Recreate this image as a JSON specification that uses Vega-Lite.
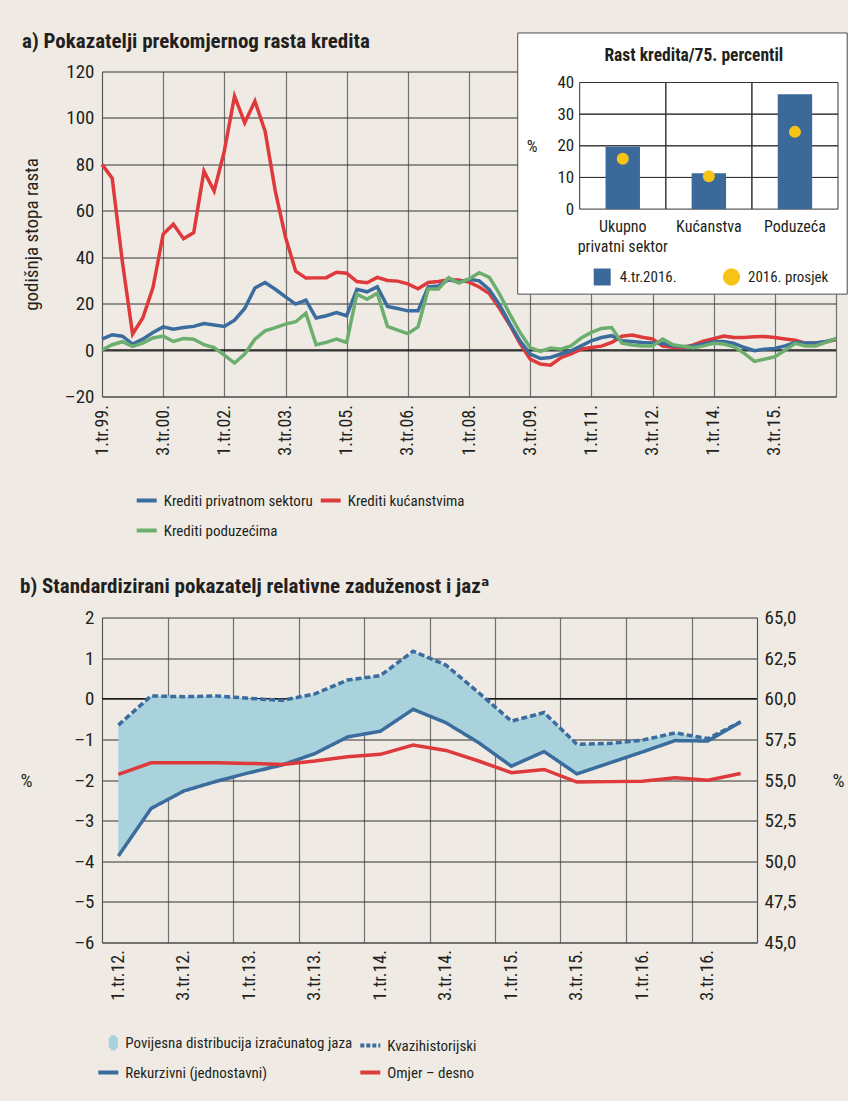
{
  "$schema": "https://vega.github.io/schema/vega-lite/v6.json",
  "background": "#efebe4",
  "padding": {"left": 19, "top": 30.5, "right": 0, "bottom": 20},
  "bounds": "flush",
  "spacing": 221,
  "config": {
    "font": "Liberation Sans Narrow, Noto Sans ExtraCondensed, Noto Sans Condensed, Roboto Condensed, DejaVu Sans Condensed, sans-serif",
    "view": {"stroke": null},
    "axis": {"labelColor": "#231f20", "titleColor": "#231f20", "titleFontWeight": "normal", "ticks": false, "labelFlush": false, "labelOverlap": false, "domainColor": "#555555"},
    "legend": {"labelColor": "#231f20", "labelFontSize": 15, "labelLimit": 400, "padding": 0},
    "title": {"fontSize": 21, "fontWeight": "bold", "color": "#231f20", "anchor": "start"}
  },
  "vconcat": [
    {
      "width": 734,
      "height": 325,
      "title": {"text": "a) Pokazatelji prekomjernog rasta kredita", "offset": -20},
      "resolve": {"scale": {"x": "independent", "y": "independent", "color": "independent"}},
      "layer": [
        {
          "data": {"values": [{}]},
          "mark": {"type": "rule", "color": "#1a1a1a", "strokeWidth": 1.6},
          "encoding": {"y": {"datum": 0, "type": "quantitative", "scale": {"domain": [-20, 120], "nice": false, "zero": false}, "axis": null}}
        },
        {
          "data": {"name": "krediti"},
          "transform": [{"fold": ["Krediti kućanstvima", "Krediti privatnom sektoru", "Krediti poduzećima"], "as": ["serija", "vrijednost"]}],
          "mark": {"type": "line", "strokeWidth": 3.5},
          "encoding": {
            "x": {"field": "i", "type": "quantitative",
              "scale": {"domain": [0, 72], "nice": false, "zero": false},
              "axis": {"values": [0,6,12,18,24,30,36,42,48,54,60,66,72],
                "labelExpr": "datum.value >= 72 ? '' : ((datum.value % 4) + 1) + '.tr.' + ((((99 + floor(datum.value / 4)) % 100) < 10) ? '0' : '') + ((99 + floor(datum.value / 4)) % 100) + '.'",
                "labelAngle": 270, "labelAlign": "right", "labelBaseline": "middle", "labelPadding": 8, "labelFontSize": 18,
                "grid": true, "gridColor": "#707070", "gridWidth": 1.2, "domainWidth": 1.2, "title": null, "zindex": 0}},
            "y": {"field": "vrijednost", "type": "quantitative",
              "scale": {"domain": [-20, 120], "nice": false, "zero": false},
              "axis": {"values": [-20,0,20,40,60,80,100,120],
                "labelExpr": "replace(datum.label, '−', '–')",
                "labelFontSize": 19, "labelPadding": 8, "grid": true, "gridColor": "#333333", "gridWidth": 1,
                "title": "godišnja stopa rasta", "titleFontSize": 19, "titleAngle": 270, "titleX": -71, "titleY": 162.5,
                "titleAlign": "center", "titleBaseline": "middle", "zindex": 0}},
            "color": {"field": "serija", "type": "nominal",
              "scale": {"domain": ["Krediti privatnom sektoru", "Krediti kućanstvima", "Krediti poduzećima"], "range": ["#3b6c9e", "#df3a3b", "#6cae6e"]},
              "legend": {"orient": "none", "legendX": 32.7, "legendY": 417, "columns": 2, "direction": "horizontal", "title": null,
                "symbolType": "stroke", "symbolStrokeWidth": 4, "symbolSize": 400, "labelOffset": 5,
                "rowPadding": 10, "columnPadding": 0}}
          }
        },
        {
          "data": {"values": [{}]},
          "mark": {"type": "rect", "fill": "white", "stroke": "#4d4d4d", "strokeWidth": 1},
          "encoding": {
            "x": {"datum": 40.78, "type": "quantitative", "scale": {"domain": [0, 72], "nice": false, "zero": false}, "axis": null},
            "x2": {"datum": 73.1},
            "y": {"datum": 136.6, "type": "quantitative", "scale": {"domain": [-20, 120], "nice": false, "zero": false}, "axis": null},
            "y2": {"datum": 24.1}
          }
        },
        {
          "data": {"name": "inset"},
          "mark": {"type": "rect", "fill": "transparent", "stroke": "#333333", "strokeWidth": 1},
          "encoding": {
            "x": {"field": "kategorija", "type": "nominal",
              "scale": {"domain": ["Ukupno privatni sektor", "Kućanstva", "Poduzeća"], "range": [477.7, 736.0], "paddingInner": 0, "paddingOuter": 0},
              "axis": {"orient": "bottom", "offset": -187.4, "zindex": 1, "domain": false, "grid": false, "ticks": false, "title": null,
                "labelAngle": 0, "labelFontSize": 16, "labelPadding": 9, "labelBaseline": "top", "labelLineHeight": 20,
                "labelExpr": "datum.value == 'Ukupno privatni sektor' ? ['Ukupno', 'privatni sektor'] : datum.value"}},
            "y": {"datum": 0, "type": "quantitative",
              "scale": {"domain": [0, 40], "range": [137.6, 11.0], "nice": false, "zero": false},
              "axis": {"orient": "left", "offset": -477.7, "zindex": 1, "domain": false, "grid": false, "ticks": false,
                "values": [0, 10, 20, 30, 40], "labelFontSize": 17, "labelPadding": 6,
                "title": "%", "titleAngle": 0, "titleX": -48, "titleY": 75, "titleFontSize": 17, "titleAlign": "center", "titleBaseline": "middle"}},
            "y2": {"datum": 40}
          }
        },
        {
          "data": {"name": "inset"},
          "mark": {"type": "rect", "fill": "transparent", "stroke": "#333333", "strokeWidth": 1},
          "encoding": {
            "x": {"field": "kategorija", "type": "nominal", "scale": {"domain": ["Ukupno privatni sektor", "Kućanstva", "Poduzeća"], "range": [477.7, 736.0], "paddingInner": 0, "paddingOuter": 0}, "axis": null},
            "y": {"datum": 10, "type": "quantitative", "scale": {"domain": [0, 40], "range": [137.6, 11.0], "nice": false, "zero": false}, "axis": null},
            "y2": {"datum": 10}
          }
        },
        {
          "data": {"name": "inset"},
          "mark": {"type": "rect", "fill": "transparent", "stroke": "#333333", "strokeWidth": 1},
          "encoding": {
            "x": {"field": "kategorija", "type": "nominal", "scale": {"domain": ["Ukupno privatni sektor", "Kućanstva", "Poduzeća"], "range": [477.7, 736.0], "paddingInner": 0, "paddingOuter": 0}, "axis": null},
            "y": {"datum": 20, "type": "quantitative", "scale": {"domain": [0, 40], "range": [137.6, 11.0], "nice": false, "zero": false}, "axis": null},
            "y2": {"datum": 20}
          }
        },
        {
          "data": {"name": "inset"},
          "mark": {"type": "rect", "fill": "transparent", "stroke": "#333333", "strokeWidth": 1},
          "encoding": {
            "x": {"field": "kategorija", "type": "nominal", "scale": {"domain": ["Ukupno privatni sektor", "Kućanstva", "Poduzeća"], "range": [477.7, 736.0], "paddingInner": 0, "paddingOuter": 0}, "axis": null},
            "y": {"datum": 30, "type": "quantitative", "scale": {"domain": [0, 40], "range": [137.6, 11.0], "nice": false, "zero": false}, "axis": null},
            "y2": {"datum": 30}
          }
        },
        {
          "data": {"name": "inset"},
          "mark": {"type": "bar", "width": {"band": 0.4}},
          "encoding": {
            "x": {"field": "kategorija", "type": "nominal", "scale": {"domain": ["Ukupno privatni sektor", "Kućanstva", "Poduzeća"], "range": [477.7, 736.0], "paddingInner": 0, "paddingOuter": 0}, "axis": null},
            "y": {"field": "q4", "type": "quantitative", "scale": {"domain": [0, 40], "range": [137.6, 11.0], "nice": false, "zero": false}, "axis": null},
            "color": {"datum": "4.tr.2016.",
              "scale": {"domain": ["4.tr.2016."], "range": ["#3b6a9a"]},
              "legend": {"orient": "none", "legendX": 490.7, "legendY": 196, "title": null, "symbolType": "square",
                "symbolSize": 289, "symbolOpacity": 1, "labelOffset": 8, "labelFontSize": 15}}
          }
        },
        {
          "data": {"name": "inset"},
          "mark": {"type": "point", "filled": true, "size": 144, "opacity": 1},
          "encoding": {
            "x": {"field": "kategorija", "type": "nominal", "scale": {"domain": ["Ukupno privatni sektor", "Kućanstva", "Poduzeća"], "range": [477.7, 736.0], "paddingInner": 0, "paddingOuter": 0}, "axis": null},
            "y": {"field": "prosjek", "type": "quantitative", "scale": {"domain": [0, 40], "range": [137.6, 11.0], "nice": false, "zero": false}, "axis": null},
            "color": {"datum": "2016. prosjek",
              "scale": {"domain": ["2016. prosjek"], "range": ["#f5c416"]},
              "legend": {"orient": "none", "legendX": 620, "legendY": 196, "title": null, "symbolType": "circle",
                "symbolSize": 300, "symbolOpacity": 1, "labelOffset": 7, "labelFontSize": 15}}
          }
        },
        {
          "data": {"values": [{}]},
          "mark": {"type": "text", "fontSize": 17.5, "fontWeight": "bold", "color": "#231f20", "dx": -15, "align": "center", "baseline": "middle"},
          "encoding": {
            "x": {"datum": "Kućanstva", "type": "nominal", "scale": {"domain": ["Ukupno privatni sektor", "Kućanstva", "Poduzeća"], "range": [477.7, 736.0], "paddingInner": 0, "paddingOuter": 0}, "axis": null},
            "y": {"datum": 48.4, "type": "quantitative", "scale": {"domain": [0, 40], "range": [137.6, 11.0], "nice": false, "zero": false}, "axis": null},
            "text": {"value": "Rast kredita/75. percentil"}
          }
        }
      ]
    },
    {
      "width": 655,
      "height": 325,
      "title": {"text": "b) Standardizirani pokazatelj relativne zaduženost i jazᵃ", "offset": 12},
      "data": {"name": "omjer"},
      "resolve": {"scale": {"y": "independent"}, "axis": {"x": "independent"}, "legend": {"color": "independent"}},
      "layer": [
        {
          "data": {"values": [{}]},
          "mark": {"type": "rule", "color": "#1a1a1a", "strokeWidth": 1.6},
          "encoding": {"y": {"datum": 0, "type": "quantitative", "scale": {"domain": [-6, 2], "nice": false, "zero": false}, "axis": null}}
        },
        {
          "mark": {"type": "area", "opacity": 1},
          "encoding": {
            "x": {"field": "k", "type": "quantitative", "axis": null},
            "y": {"field": "Kvazihistorijski", "type": "quantitative", "scale": {"domain": [-6, 2], "nice": false, "zero": false}, "axis": null},
            "y2": {"field": "Rekurzivni (jednostavni)"},
            "color": {"datum": "Povijesna distribucija izračunatog jaza", "legend": null}
          }
        },
        {
          "transform": [{"fold": ["Kvazihistorijski", "Rekurzivni (jednostavni)"], "as": ["serija", "vrijednost"]}],
          "mark": {"type": "line", "strokeWidth": 3.5},
          "encoding": {
            "x": {"field": "k", "type": "quantitative",
              "scale": {"domain": [-0.5, 19.5], "nice": false, "zero": false},
              "axis": {"values": [-0.5,0,1.5,2,3.5,4,5.5,6,7.5,8,9.5,10,11.5,12,13.5,14,15.5,16,17.5,18,19.5],
                "labelExpr": "datum.value % 1 != 0 ? '' : ((datum.value % 4 == 0) ? '1' : '3') + '.tr.' + (12 + floor(datum.value / 4)) + '.'",
                "labelAngle": 270, "labelAlign": "right", "labelBaseline": "middle", "labelPadding": 7, "labelFontSize": 18,
                "grid": true, "gridColor": "#707070", "gridWidth": 1.2,
                "gridOpacity": {"condition": {"test": "datum.value % 1 != 0", "value": 1}, "value": 0},
                "domainWidth": 1.2, "title": null, "zindex": 0}},
            "y": {"field": "vrijednost", "type": "quantitative",
              "scale": {"domain": [-6, 2], "nice": false, "zero": false},
              "axis": {"values": [-6,-5,-4,-3,-2,-1,0,1,2],
                "labelExpr": "replace(datum.label, '−', '–')",
                "labelFontSize": 19, "labelPadding": 8, "grid": true, "gridColor": "#333333", "gridWidth": 1,
                "title": "%", "titleFontSize": 19, "titleAngle": 0, "titleX": -76, "titleY": 162.5,
                "titleAlign": "center", "titleBaseline": "middle", "zindex": 0}},
            "color": {"field": "serija", "type": "nominal",
              "scale": {"domain": ["Povijesna distribucija izračunatog jaza", "Kvazihistorijski", "Rekurzivni (jednostavni)", "Omjer – desno"],
                "range": ["#a9d2dd", "#3b6c9e", "#3b6c9e", "#df3a3b"]},
              "legend": {"orient": "none", "legendX": -5.7, "legendY": 413, "columns": 2, "direction": "horizontal", "title": null,
                "symbolType": {"expr": "datum.value == 'Povijesna distribucija izračunatog jaza' ? 'M0.25,-0.55L0.75,-0.55L0.75,0.55L0.25,0.55Z' : 'stroke'"},
                "symbolDash": {"expr": "datum.value == 'Kvazihistorijski' ? [4, 2] : [1, 0]"},
                "symbolFillColor": {"expr": "datum.value == 'Povijesna distribucija izračunatog jaza' ? '#a9d2dd' : 'transparent'"},
                "symbolStrokeWidth": 4, "symbolSize": 400, "labelOffset": 5, "rowPadding": 4, "columnPadding": 0}},
            "strokeDash": {"field": "serija", "type": "nominal",
              "scale": {"domain": ["Kvazihistorijski", "Rekurzivni (jednostavni)"], "range": [[6, 3], [1, 0]]},
              "legend": null}
          }
        },
        {
          "mark": {"type": "line", "strokeWidth": 3.5},
          "encoding": {
            "x": {"field": "k", "type": "quantitative", "axis": null},
            "y": {"field": "Omjer – desno", "type": "quantitative",
              "scale": {"domain": [45, 65], "nice": false, "zero": false},
              "axis": {"orient": "right", "values": [45,47.5,50,52.5,55,57.5,60,62.5,65],
                "labelExpr": "replace(format(datum.value, '.1f'), '.', ',')",
                "labelFontSize": 19, "labelPadding": 7, "grid": false,
                "title": "%", "titleFontSize": 19, "titleAngle": 0, "titleX": 81, "titleY": 162.5,
                "titleAlign": "center", "titleBaseline": "middle", "zindex": 0}},
            "color": {"datum": "Omjer – desno", "legend": null}
          }
        }
      ]
    }
  ],
  "datasets": {
    "krediti": [
      {"i":0,"Krediti privatnom sektoru":4.7,"Krediti kućanstvima":80.0,"Krediti poduzećima":0.0},
      {"i":1,"Krediti privatnom sektoru":6.6,"Krediti kućanstvima":74.0,"Krediti poduzećima":2.3},
      {"i":2,"Krediti privatnom sektoru":6.0,"Krediti kućanstvima":38.0,"Krediti poduzećima":3.6},
      {"i":3,"Krediti privatnom sektoru":2.6,"Krediti kućanstvima":6.9,"Krediti poduzećima":1.6},
      {"i":4,"Krediti privatnom sektoru":4.7,"Krediti kućanstvima":13.8,"Krediti poduzećima":3.0},
      {"i":5,"Krediti privatnom sektoru":7.6,"Krediti kućanstvima":26.9,"Krediti poduzećima":5.2},
      {"i":6,"Krediti privatnom sektoru":10.0,"Krediti kućanstvima":49.9,"Krediti poduzećima":6.0},
      {"i":7,"Krediti privatnom sektoru":9.0,"Krediti kućanstvima":54.2,"Krediti poduzećima":3.7},
      {"i":8,"Krediti privatnom sektoru":9.7,"Krediti kućanstvima":48.0,"Krediti poduzećima":5.0},
      {"i":9,"Krediti privatnom sektoru":10.2,"Krediti kućanstvima":50.6,"Krediti poduzećima":4.7},
      {"i":10,"Krediti privatnom sektoru":11.4,"Krediti kućanstvima":77.1,"Krediti poduzećima":2.3},
      {"i":11,"Krediti privatnom sektoru":10.8,"Krediti kućanstvima":68.5,"Krediti poduzećima":1.1},
      {"i":12,"Krediti privatnom sektoru":10.2,"Krediti kućanstvima":85.7,"Krediti poduzećima":-2.2},
      {"i":13,"Krediti privatnom sektoru":12.9,"Krediti kućanstvima":109.4,"Krediti poduzećima":-5.6},
      {"i":14,"Krediti privatnom sektoru":17.9,"Krediti kućanstvima":97.9,"Krediti poduzećima":-1.7},
      {"i":15,"Krediti privatnom sektoru":26.7,"Krediti kućanstvima":107.2,"Krediti poduzećima":4.7},
      {"i":16,"Krediti privatnom sektoru":29.1,"Krediti kućanstvima":94.3,"Krediti poduzećima":8.3},
      {"i":17,"Krediti privatnom sektoru":26.2,"Krediti kućanstvima":68.5,"Krediti poduzećima":9.7},
      {"i":18,"Krediti privatnom sektoru":22.9,"Krediti kućanstvima":48.6,"Krediti poduzećima":11.2},
      {"i":19,"Krediti privatnom sektoru":19.8,"Krediti kućanstvima":34.0,"Krediti poduzećima":12.2},
      {"i":20,"Krediti privatnom sektoru":21.5,"Krediti kućanstvima":31.0,"Krediti poduzećima":15.9},
      {"i":21,"Krediti privatnom sektoru":13.8,"Krediti kućanstvima":31.1,"Krediti poduzećima":2.3},
      {"i":22,"Krediti privatnom sektoru":14.8,"Krediti kućanstvima":31.2,"Krediti poduzećima":3.3},
      {"i":23,"Krediti privatnom sektoru":16.2,"Krediti kućanstvima":33.5,"Krediti poduzećima":4.7},
      {"i":24,"Krediti privatnom sektoru":14.8,"Krediti kućanstvima":33.1,"Krediti poduzećima":3.3},
      {"i":25,"Krediti privatnom sektoru":26.2,"Krediti kućanstvima":29.5,"Krediti poduzećima":24.1},
      {"i":26,"Krediti privatnom sektoru":25.1,"Krediti kućanstvima":29.0,"Krediti poduzećima":21.9},
      {"i":27,"Krediti privatnom sektoru":27.2,"Krediti kućanstvima":31.3,"Krediti poduzećima":24.5},
      {"i":28,"Krediti privatnom sektoru":18.8,"Krediti kućanstvima":30.0,"Krediti poduzećima":10.2},
      {"i":29,"Krediti privatnom sektoru":17.9,"Krediti kućanstvima":29.7,"Krediti poduzećima":8.6},
      {"i":30,"Krediti privatnom sektoru":16.9,"Krediti kućanstvima":28.5,"Krediti poduzećima":7.1},
      {"i":31,"Krediti privatnom sektoru":16.9,"Krediti kućanstvima":26.4,"Krediti poduzećima":10.0},
      {"i":32,"Krediti privatnom sektoru":27.2,"Krediti kućanstvima":29.1,"Krediti poduzećima":26.3},
      {"i":33,"Krediti privatnom sektoru":27.6,"Krediti kućanstvima":29.5,"Krediti poduzećima":26.3},
      {"i":34,"Krediti privatnom sektoru":30.4,"Krediti kućanstvima":30.3,"Krediti poduzećima":31.2},
      {"i":35,"Krediti privatnom sektoru":29.2,"Krediti kućanstvima":30.2,"Krediti poduzećima":28.9},
      {"i":36,"Krediti privatnom sektoru":30.5,"Krediti kućanstvima":29.3,"Krediti poduzećima":30.6},
      {"i":37,"Krediti privatnom sektoru":29.8,"Krediti kućanstvima":27.2,"Krediti poduzećima":33.3},
      {"i":38,"Krediti privatnom sektoru":26.0,"Krediti kućanstvima":24.3,"Krediti poduzećima":31.3},
      {"i":39,"Krediti privatnom sektoru":19.5,"Krediti kućanstvima":17.9,"Krediti poduzećima":24.1},
      {"i":40,"Krediti privatnom sektoru":11.4,"Krediti kućanstvima":10.8,"Krediti poduzećima":15.5},
      {"i":41,"Krediti privatnom sektoru":4.0,"Krediti kućanstvima":2.9,"Krediti poduzećima":7.6},
      {"i":42,"Krediti privatnom sektoru":-1.7,"Krediti kućanstvima":-3.9,"Krediti poduzećima":1.1},
      {"i":43,"Krediti privatnom sektoru":-3.6,"Krediti kućanstvima":-6.0,"Krediti poduzećima":-0.6},
      {"i":44,"Krediti privatnom sektoru":-3.2,"Krediti kućanstvima":-6.5,"Krediti poduzećima":0.9},
      {"i":45,"Krediti privatnom sektoru":-1.7,"Krediti kućanstvima":-3.3,"Krediti poduzećima":0.4},
      {"i":46,"Krediti privatnom sektoru":-0.3,"Krediti kućanstvima":-1.6,"Krediti poduzećima":1.8},
      {"i":47,"Krediti privatnom sektoru":1.8,"Krediti kućanstvima":0.4,"Krediti poduzećima":5.2},
      {"i":48,"Krediti privatnom sektoru":4.0,"Krediti kućanstvima":1.1,"Krediti poduzećima":7.6},
      {"i":49,"Krediti privatnom sektoru":5.4,"Krediti kućanstvima":1.7,"Krediti poduzećima":9.3},
      {"i":50,"Krediti privatnom sektoru":6.2,"Krediti kućanstvima":3.3,"Krediti poduzećima":9.7},
      {"i":51,"Krediti privatnom sektoru":4.0,"Krediti kućanstvima":6.0,"Krediti poduzećima":3.0},
      {"i":52,"Krediti privatnom sektoru":3.7,"Krediti kućanstvima":6.5,"Krediti poduzećima":2.2},
      {"i":53,"Krediti privatnom sektoru":3.3,"Krediti kućanstvima":5.5,"Krediti poduzećima":1.8},
      {"i":54,"Krediti privatnom sektoru":3.1,"Krediti kućanstvima":4.8,"Krediti poduzećima":1.8},
      {"i":55,"Krediti privatnom sektoru":2.9,"Krediti kućanstvima":1.7,"Krediti poduzećima":4.7},
      {"i":56,"Krediti privatnom sektoru":1.8,"Krediti kućanstvima":1.2,"Krediti poduzećima":2.3},
      {"i":57,"Krediti privatnom sektoru":1.4,"Krediti kućanstvima":1.0,"Krediti poduzećima":1.6},
      {"i":58,"Krediti privatnom sektoru":1.8,"Krediti kućanstvima":2.2,"Krediti poduzećima":1.0},
      {"i":59,"Krediti privatnom sektoru":2.6,"Krediti kućanstvima":3.8,"Krediti poduzećima":1.8},
      {"i":60,"Krediti privatnom sektoru":3.6,"Krediti kućanstvima":4.9,"Krediti poduzećima":2.9},
      {"i":61,"Krediti privatnom sektoru":3.7,"Krediti kućanstvima":6.0,"Krediti poduzećima":2.6},
      {"i":62,"Krediti privatnom sektoru":2.9,"Krediti kućanstvima":5.4,"Krediti poduzećima":1.4},
      {"i":63,"Krediti privatnom sektoru":1.1,"Krediti kućanstvima":5.4,"Krediti poduzećima":-1.4},
      {"i":64,"Krediti privatnom sektoru":-0.3,"Krediti kućanstvima":5.7,"Krediti poduzećima":-4.9},
      {"i":65,"Krediti privatnom sektoru":0.4,"Krediti kućanstvima":5.8,"Krediti poduzećima":-3.9},
      {"i":66,"Krediti privatnom sektoru":0.7,"Krediti kućanstvima":5.4,"Krediti poduzećima":-2.9},
      {"i":67,"Krediti privatnom sektoru":1.8,"Krediti kućanstvima":4.8,"Krediti poduzećima":-0.1},
      {"i":68,"Krediti privatnom sektoru":3.3,"Krediti kućanstvima":4.2,"Krediti poduzećima":2.9},
      {"i":69,"Krediti privatnom sektoru":3.0,"Krediti kućanstvima":3.0,"Krediti poduzećima":1.8},
      {"i":70,"Krediti privatnom sektoru":3.1,"Krediti kućanstvima":3.0,"Krediti poduzećima":1.8},
      {"i":71,"Krediti privatnom sektoru":3.7,"Krediti kućanstvima":3.5,"Krediti poduzećima":3.3},
      {"i":72,"Krediti privatnom sektoru":4.7,"Krediti kućanstvima":4.5,"Krediti poduzećima":5.0}
    ],
    "inset": [
      {"kategorija": "Ukupno privatni sektor", "q4": 19.7, "prosjek": 15.9},
      {"kategorija": "Kućanstva", "q4": 11.3, "prosjek": 10.4},
      {"kategorija": "Poduzeća", "q4": 36.3, "prosjek": 24.4}
    ],
    "omjer": [
      {"k":0,"q":"1.tr.12.","Kvazihistorijski":-0.65,"Rekurzivni (jednostavni)":-3.87,"Omjer – desno":55.35},
      {"k":1,"q":"2.tr.12.","Kvazihistorijski":0.07,"Rekurzivni (jednostavni)":-2.70,"Omjer – desno":56.06},
      {"k":2,"q":"3.tr.12.","Kvazihistorijski":0.05,"Rekurzivni (jednostavni)":-2.27,"Omjer – desno":56.06},
      {"k":3,"q":"4.tr.12.","Kvazihistorijski":0.07,"Rekurzivni (jednostavni)":-2.03,"Omjer – desno":56.06},
      {"k":4,"q":"1.tr.13.","Kvazihistorijski":0.01,"Rekurzivni (jednostavni)":-1.82,"Omjer – desno":56.02},
      {"k":5,"q":"2.tr.13.","Kvazihistorijski":-0.04,"Rekurzivni (jednostavni)":-1.63,"Omjer – desno":55.96},
      {"k":6,"q":"3.tr.13.","Kvazihistorijski":0.12,"Rekurzivni (jednostavni)":-1.35,"Omjer – desno":56.17},
      {"k":7,"q":"4.tr.13.","Kvazihistorijski":0.46,"Rekurzivni (jednostavni)":-0.94,"Omjer – desno":56.43},
      {"k":8,"q":"1.tr.14.","Kvazihistorijski":0.57,"Rekurzivni (jednostavni)":-0.80,"Omjer – desno":56.58},
      {"k":9,"q":"2.tr.14.","Kvazihistorijski":1.17,"Rekurzivni (jednostavni)":-0.26,"Omjer – desno":57.15},
      {"k":10,"q":"3.tr.14.","Kvazihistorijski":0.83,"Rekurzivni (jednostavni)":-0.59,"Omjer – desno":56.82},
      {"k":11,"q":"4.tr.14.","Kvazihistorijski":0.15,"Rekurzivni (jednostavni)":-1.08,"Omjer – desno":56.17},
      {"k":12,"q":"1.tr.15.","Kvazihistorijski":-0.55,"Rekurzivni (jednostavni)":-1.66,"Omjer – desno":55.45},
      {"k":13,"q":"2.tr.15.","Kvazihistorijski":-0.34,"Rekurzivni (jednostavni)":-1.30,"Omjer – desno":55.65},
      {"k":14,"q":"3.tr.15.","Kvazihistorijski":-1.12,"Rekurzivni (jednostavni)":-1.85,"Omjer – desno":54.87},
      {"k":15,"q":"4.tr.15.","Kvazihistorijski":-1.10,"Rekurzivni (jednostavni)":-1.58,"Omjer – desno":54.90},
      {"k":16,"q":"1.tr.16.","Kvazihistorijski":-1.02,"Rekurzivni (jednostavni)":-1.31,"Omjer – desno":54.93},
      {"k":17,"q":"2.tr.16.","Kvazihistorijski":-0.84,"Rekurzivni (jednostavni)":-1.03,"Omjer – desno":55.14},
      {"k":18,"q":"3.tr.16.","Kvazihistorijski":-0.98,"Rekurzivni (jednostavni)":-1.04,"Omjer – desno":54.98},
      {"k":19,"q":"4.tr.16.","Kvazihistorijski":-0.57,"Rekurzivni (jednostavni)":-0.57,"Omjer – desno":55.40}
    ]
  }
}
